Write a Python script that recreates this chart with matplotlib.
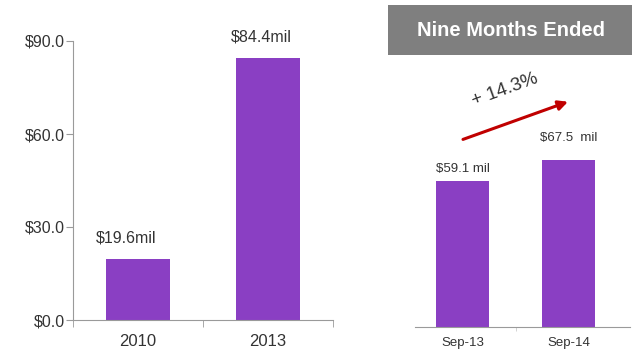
import matplotlib.pyplot as plt

plt.rcParams['font.family'] = ['Liberation Sans', 'DejaVu Sans']

# data
years = ['2010', '2013']
annual = [19.6, 84.4]
annual_labels = ['$19.6mil', '$84.4mil']

months = ['Sep-13', 'Sep-14']
nine_months = [59.1, 67.5]
nine_labels = ['$59.1 mil', '$67.5  mil']
growth = '+ 14.3%'

yticks = [0, 30, 60, 90]
ytick_labels = ['$0.0', '$30.0', '$60.0', '$90.0']

purple = '#8a3fc3'
axis_gray = '#9a9a9a'
text_col = '#333333'

W, H = 632, 352
fig = plt.figure(figsize=(W / 100, H / 100), dpi=100)

def px(l, t, r, b):
    return [l / W, 1 - b / H, (r - l) / W, (b - t) / H]

# ---------------- left chart
ax = fig.add_axes(px(73, 41, 333, 320))
ax.bar(range(len(years)), annual, width=0.49, color=purple)
ax.set_xlim(-0.5, 1.5)
ax.set_ylim(0, 90)
ax.set_yticks(yticks)
ax.set_yticklabels(ytick_labels)
ax.set_xticks(range(len(years)))
ax.set_xticklabels(years, fontsize=12, color=text_col)
ax.set_xticks([-0.5, 0.5, 1.5], minor=True)
ax.tick_params(axis='x', which='major', length=0, pad=10)
ax.tick_params(axis='x', which='minor', length=5, color=axis_gray)
ax.tick_params(axis='y', length=5, color=axis_gray, labelsize=11.5, labelcolor=text_col, pad=1)
for s in ['top', 'right']:
    ax.spines[s].set_visible(False)
for s in ['left', 'bottom']:
    ax.spines[s].set_color(axis_gray)
offsets = [-0.09, -0.05]
for i, (v, lab) in enumerate(zip(annual, annual_labels)):
    ax.text(i + offsets[i], v + 4.5, lab, ha='center', va='bottom', fontsize=11.5, color=text_col)

# ---------------- right chart
ax2 = fig.add_axes(px(415, 60, 630, 327))
ax2.bar(range(len(months)), nine_months, width=0.5, color=purple)
ax2.set_xlim(-0.448, 1.58)
ax2.set_ylim(0, 108)
ax2.set_yticks([])
ax2.set_xticks(range(len(months)))
ax2.set_xticklabels(months, fontsize=9.5, color=text_col)
ax2.set_xticks([0.5], minor=True)
ax2.tick_params(axis='x', which='major', length=0, pad=7)
ax2.tick_params(axis='x', which='minor', length=3, color='#cccccc')
for s in ['top', 'right', 'left']:
    ax2.spines[s].set_visible(False)
ax2.spines['bottom'].set_color(axis_gray)
lab_off = [2.5, 6.5]
for i, (v, lab) in enumerate(zip(nine_months, nine_labels)):
    ax2.text(i, v + lab_off[i], lab, ha='center', va='bottom', fontsize=9.5, color=text_col)

# growth arrow
ax2.annotate('', xy=(1.02, 91.5), xytext=(-0.02, 75.5),
             arrowprops=dict(arrowstyle='-|>', color='#c00000', lw=2.2, mutation_scale=14))
ax2.text(0.4, 96, growth, ha='center', va='center', rotation=20, fontsize=13.5, color=text_col)

# header box
box = plt.Rectangle((388 / W, 1 - 55 / H), (632 - 388) / W, 50 / H,
                    transform=fig.transFigure, fc='#7f7f7f', ec='none', zorder=0)
fig.patches.append(box)
fig.text(511 / W, 1 - 30 / H, 'Nine Months Ended', ha='center', va='center',
         fontsize=14.5, fontweight='bold', color='white')

fig.savefig('out.png', dpi=100)
